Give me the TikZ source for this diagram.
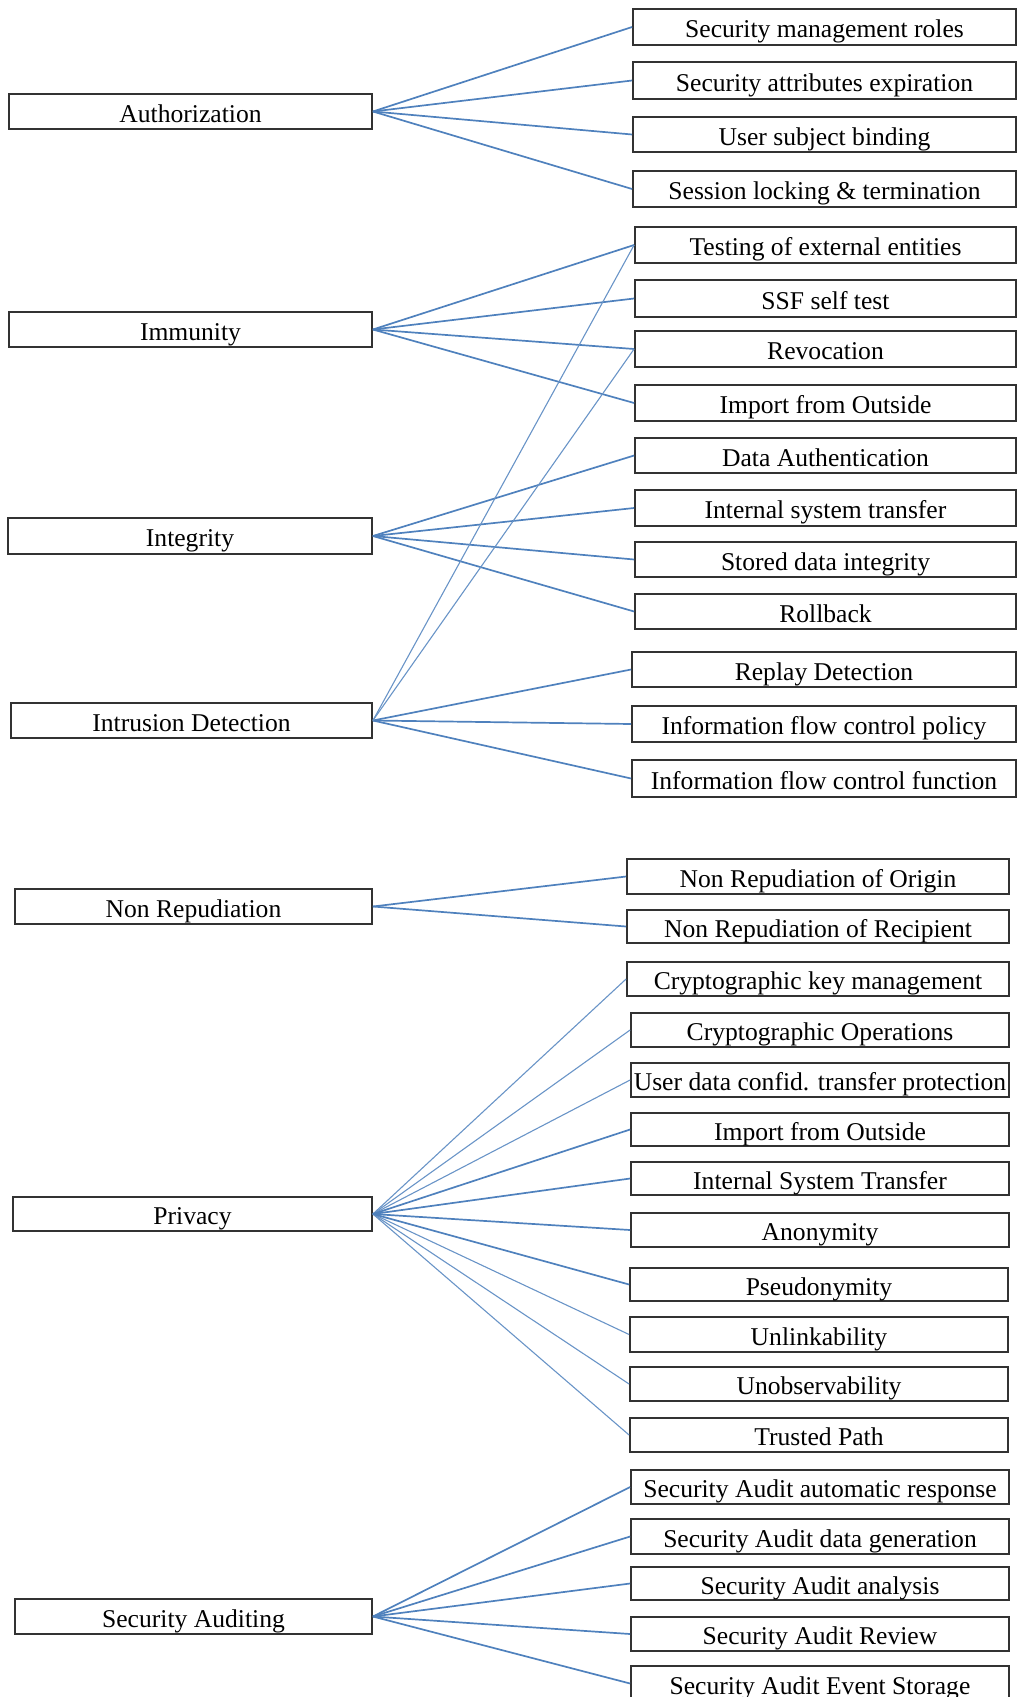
\documentclass[tikz,border=0pt]{standalone}
\usepackage{fontspec}
\setmainfont{Liberation Serif}
\definecolor{linkblue}{RGB}{79,129,189}
\definecolor{boxline}{RGB}{50,50,50}
\tikzset{
  box/.style={draw=boxline, line width=1.8pt, inner sep=0pt, fill=white,
    text height=23pt, text depth=2pt, font=\fontsize{25.6}{30}\selectfont},
  link/.style={draw=linkblue, line width=1.7pt},
  thinlink/.style={draw=linkblue!85, line width=1.1pt}
}
% \cbox{name}{x1}{y1}{x2}{y2}{text}: a framed box given by its corners
\newcommand\cbox[6]{%
  \node[box, minimum width={#4pt-#2pt}, minimum height={#5pt-#3pt}]
    (#1) at ({(#2+#4)/2},{(#3+#5)/2}) {#6};}
\begin{document}
\begin{tikzpicture}[x=1pt,y=-1pt]
\useasboundingbox (0,0) rectangle (1017,1697);

% main categories
\cbox{auth}{9}{94}{372}{129}{Authorization}
\cbox{imm}{9}{312}{372}{347}{Immunity}
\cbox{integ}{8}{518}{372}{554}{Integrity}
\cbox{intr}{11}{703}{372}{738}{Intrusion Detection}
\cbox{nonrep}{15}{889}{372}{924}{Non Repudiation}
\cbox{priv}{13}{1197}{372}{1231}{Privacy}
\cbox{audit}{15}{1599}{372}{1634}{Security Auditing}

% sub-functions
\cbox{a1}{633}{9}{1016}{45}{Security management roles}
\cbox{a2}{633}{62}{1016}{99}{Security attributes expiration}
\cbox{a3}{633}{117}{1016}{152}{User subject binding}
\cbox{a4}{633}{171}{1016}{207}{Session locking \& termination}

\cbox{m1}{635}{227}{1016}{263}{Testing of external entities}
\cbox{m2}{635}{280}{1016}{317}{SSF self test}
\cbox{m3}{635}{331}{1016}{367}{Revocation}
\cbox{m4}{635}{385}{1016}{421}{Import from Outside}

\cbox{g1}{635}{438}{1016}{473}{Data Authentication}
\cbox{g2}{635}{490}{1016}{526}{Internal system transfer}
\cbox{g3}{635}{542}{1016}{577}{Stored data integrity}
\cbox{g4}{635}{594}{1016}{629}{Rollback}

\cbox{d1}{632}{652}{1016}{687}{Replay Detection}
\cbox{d2}{632}{706}{1016}{742}{Information flow control policy}
\cbox{d3}{632}{760}{1016}{797}{Information flow control function}

\cbox{n1}{627}{859}{1009}{894}{Non Repudiation of Origin}
\cbox{n2}{627}{910}{1009}{943}{Non Repudiation of Recipient}

\cbox{p1}{627}{962}{1009}{996}{Cryptographic key management}
\cbox{p2}{631}{1013}{1009}{1047}{Cryptographic Operations}
\cbox{p3}{631}{1063}{1009}{1097}{User data confid. transfer protection}
\cbox{p4}{631}{1113}{1009}{1146}{Import from Outside}
\cbox{p5}{631}{1162}{1009}{1195}{Internal System Transfer}
\cbox{p6}{631}{1213}{1009}{1247}{Anonymity}
\cbox{p7}{630}{1268}{1008}{1301}{Pseudonymity}
\cbox{p8}{630}{1317}{1008}{1352}{Unlinkability}
\cbox{p9}{630}{1367}{1008}{1401}{Unobservability}
\cbox{p10}{630}{1418}{1008}{1452}{Trusted Path}

\cbox{s1}{631}{1470}{1009}{1504}{Security Audit automatic response}
\cbox{s2}{631}{1519}{1009}{1554}{Security Audit data generation}
\cbox{s3}{631}{1567}{1009}{1600}{Security Audit analysis}
\cbox{s4}{631}{1617}{1009}{1651}{Security Audit Review}
\cbox{s5}{631}{1666}{1009}{1701}{Security Audit Event Storage}

% connectors from each category to its sub-functions
\foreach \t in {a1,a2,a3,a4} \draw[link] (auth.east) -- (\t.west);
\foreach \t in {m1,m2,m3,m4} \draw[link] (imm.east) -- (\t.west);
\foreach \t in {g1,g2,g3,g4} \draw[link] (integ.east) -- (\t.west);
\foreach \t in {d1,d2,d3} \draw[link] (intr.east) -- (\t.west);
\foreach \t in {m1,m3} \draw[thinlink] (intr.east) -- (\t.west);
\foreach \t in {n1,n2} \draw[link] (nonrep.east) -- (\t.west);
\foreach \t in {p1,p2,p3,p8,p9,p10} \draw[thinlink] (priv.east) -- (\t.west);
\foreach \t in {p4,p5,p6,p7} \draw[link] (priv.east) -- (\t.west);
\foreach \t in {s1,s2,s3,s4,s5} \draw[link] (audit.east) -- (\t.west);
\end{tikzpicture}
\end{document}
